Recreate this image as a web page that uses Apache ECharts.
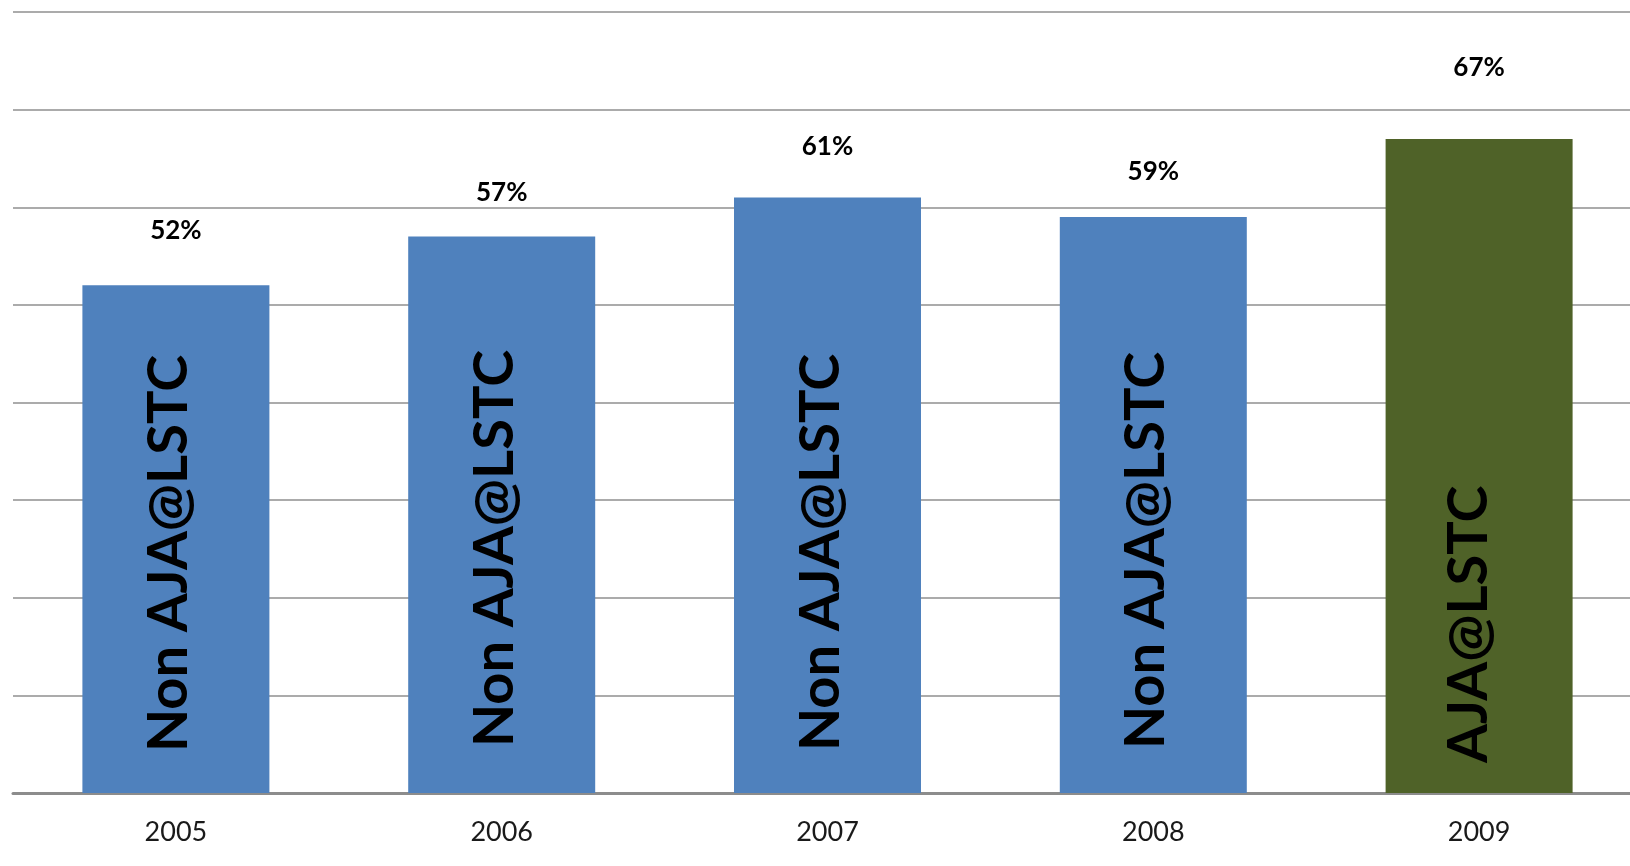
<!DOCTYPE html>
<html>
<head>
<meta charset="utf-8">
<script src="https://cdn.jsdelivr.net/npm/echarts@6/dist/echarts.min.js"></script>
<style>
html,body{margin:0;padding:0;background:#fff;overflow:hidden;width:1630px;height:866px;}
#chart{width:1642px;height:866px;}
</style>
</head>
<body>
<div id="chart"></div>
<script>
// Data
var years = ['2005', '2006', '2007', '2008', '2009'];
var values = [52, 57, 61, 59, 67];
var groupNames = ['Non AJA@LSTC', 'Non AJA@LSTC', 'Non AJA@LSTC', 'Non AJA@LSTC', 'AJA@LSTC'];
var groupColors = ['#4F81BD', '#4F81BD', '#4F81BD', '#4F81BD', '#4F6228'];

// Label placement (style, not data)
var topLabelDistance = [42, 31, 38, 32, 58];
var insideLabelDistance = [41, 46, 42, 44, 30];
var insideLabelShift = [-7, -7, -7, -7, -10];

var FONT = 'Lato, "Open Sans", "DejaVu Sans", sans-serif';

var chart = echarts.init(document.getElementById('chart'), null, {renderer: 'canvas'});

var mainData = values.map(function (v, i) {
  return {
    value: v,
    itemStyle: {color: groupColors[i]},
    // label is rotated 90deg: local y maps to screen x
    label: {distance: insideLabelDistance[i], offset: [0, insideLabelShift[i]]}
  };
});
var topData = values.map(function (v, i) {
  return {
    value: v,
    label: {distance: topLabelDistance[i]}
  };
});

chart.setOption({
  animation: false,
  backgroundColor: '#ffffff',
  grid: {left: 13, right: 0, top: 12, bottom: 73, containLabel: false, outerBoundsMode: 'none'},
  xAxis: {
    type: 'category',
    data: years,
    axisLine: {show: true, lineStyle: {color: '#8c8c8c', width: 3}},
    axisTick: {show: false},
    axisLabel: {
      color: '#1a1a1a', fontSize: 27, fontFamily: FONT, margin: 26
    }
  },
  yAxis: {
    type: 'value',
    min: 0, max: 80, interval: 10,
    axisLine: {show: false},
    axisTick: {show: false},
    axisLabel: {show: false},
    splitLine: {show: true, lineStyle: {color: '#ababab', width: 2}}
  },
  series: [
    {
      type: 'bar',
      data: mainData,
      barWidth: 187,
      label: {
        show: true,
        position: 'insideBottom',
        rotate: 90,
        align: 'left',
        verticalAlign: 'middle',
        formatter: function (p) { return groupNames[p.dataIndex]; },
        color: '#000000',
        fontSize: 56,
        fontWeight: 'bold',
        fontFamily: FONT
      },
      z: 2
    },
    {
      type: 'bar',
      data: topData,
      barWidth: 187,
      barGap: '-100%',
      itemStyle: {color: 'rgba(0,0,0,0)'},
      label: {
        show: true,
        position: 'top',
        formatter: function (p) { return p.value + '%'; },
        color: '#000000',
        fontSize: 26,
        fontWeight: 'bold',
        fontFamily: FONT
      },
      silent: true,
      z: 3
    }
  ]
});
</script>
</body>
</html>
